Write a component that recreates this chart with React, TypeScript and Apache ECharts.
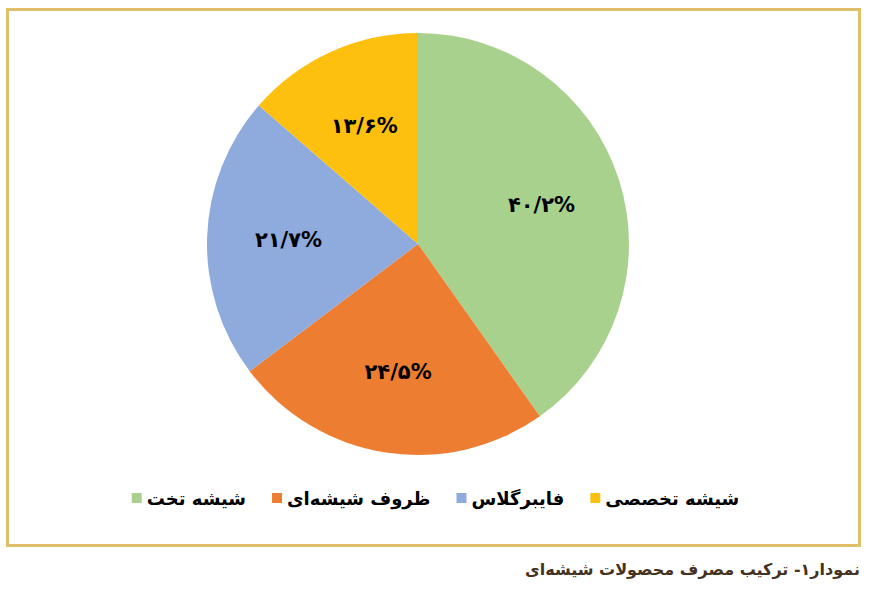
import React, { useEffect, useRef } from "react";
import * as echarts from "echarts";

const categories = ["شیشه تخت", "ظروف شیشه‌ای", "فایبرگلاس", "شیشه تخصصی"];
const values = [40.2, 24.5, 21.7, 13.6];
const colors = ["#A9D18E", "#ED7D31", "#8FAADC", "#FDC00F"];
const caption = "نمودار۱- ترکیب مصرف محصولات شیشه‌ای";

const persianDigits = ["۰", "۱", "۲", "۳", "۴", "۵", "۶", "۷", "۸", "۹"];
const toPersian = (v: number) =>
  String(v)
    .split("")
    .map((c) => (c >= "0" && c <= "9" ? persianDigits[+c] : c === "." ? "/" : c))
    .join("") + "%";

export default function App() {
  const ref = useRef<HTMLDivElement>(null);
  useEffect(() => {
    if (!ref.current) return;
    const chart = echarts.init(ref.current, undefined, { renderer: "svg" });
    const data = categories.map((name, i) => ({
      name,
      value: values[i],
      itemStyle: { color: colors[i] },
    }));
    const R = 211;
    chart.setOption({
      animation: false,
      backgroundColor: "#ffffff",
      legend: {
        data: categories,
        bottom: 81,
        left: "center",
        itemWidth: 10,
        itemHeight: 10,
        itemGap: 26,
        icon: "rect",
        selectedMode: false,
        textStyle: {
          fontFamily: "DejaVu Sans",
          fontSize: 18,
          fontWeight: "bold",
          color: "#000000",
        },
      },
      graphic: [
        {
          type: "rect",
          shape: { x: 7.5, y: 9.5, width: 852, height: 536 },
          style: { fill: "none", stroke: "#E0BF6B", lineWidth: 3 },
          silent: true,
        },
        {
          type: "text",
          right: 11,
          top: 561,
          style: {
            text: caption,
            fontFamily: "DejaVu Sans",
            fontSize: 16,
            fontWeight: "bold",
            fill: "#45331F",
          },
        },
      ],
      series: [
        {
          type: "pie",
          center: [418, 244],
          radius: [0, R],
          startAngle: 90,
          clockwise: true,
          label: { show: false },
          labelLine: { show: false },
          itemStyle: { borderWidth: 0 },
          emphasis: { disabled: true },
          silent: true,
          data,
        },
        {
          type: "pie",
          center: [418, 244],
          radius: [R * 0.2, R],
          startAngle: 90,
          clockwise: true,
          itemStyle: { color: "rgba(0,0,0,0)", borderWidth: 0 },
          label: {
            show: true,
            position: "inside",
            formatter: (p: any) => toPersian(p.value),
            fontFamily: "DejaVu Sans",
            fontSize: 21,
            fontWeight: "bold",
            color: "#000000",
          },
          labelLine: { show: false },
          emphasis: { disabled: true },
          silent: true,
          data: categories.map((name, i) => ({ name: name + " ", value: values[i] })),
        },
      ],
    });
    return () => chart.dispose();
  }, []);
  return (
    <div
      ref={ref}
      style={{ position: "fixed", left: 0, top: 0, width: 871, height: 593 }}
    />
  );
}
